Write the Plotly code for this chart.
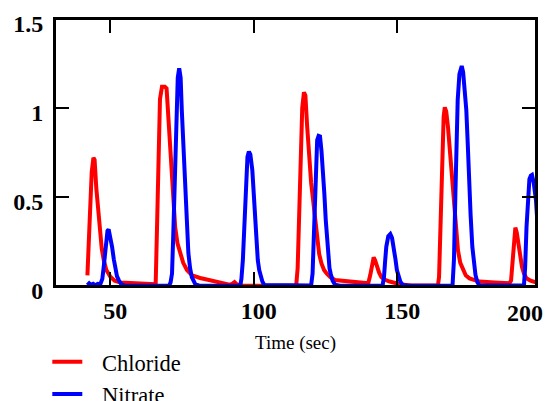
import plotly.graph_objects as go

# ---- data ----
chloride_t = [42.0, 42.5, 42.9, 43.5, 44.1, 44.5, 45.1, 45.7, 46.3, 47.0, 47.7, 48.6, 50.0, 51.5, 53.5, 58, 63, 65.8,
              66.3, 66.8, 67.3, 68.0, 69.0, 69.6, 70.2, 70.9, 71.7, 72.6, 73.4, 74.3, 75.4, 76.7, 78.5, 81.3, 84.8,
              88.5, 91.5, 92.5, 93.3, 94.2, 96, 100, 110, 114.8,
              115.3, 115.7, 116.3, 116.9, 117.5, 118.0, 118.6, 119.3, 120.0, 120.7, 121.4, 122.1, 122.8, 123.6,
              124.5, 125.4, 126.7, 128.3, 134, 139.9,
              140.6, 141.2, 141.8, 142.3, 143.0, 143.7, 144.5, 145.8, 147.4, 149.4, 151.4, 155, 164.2,
              164.6, 165.0, 165.4, 165.8, 166.2, 166.6, 167.1, 167.7, 168.3, 168.9, 169.5, 170.0, 170.6, 171.2,
              172.0, 172.9, 173.9, 175.2, 176.8, 178.7, 184, 189.1,
              189.7, 190.1, 190.5, 190.9, 191.2, 191.7, 192.4, 192.9, 193.5, 194.2, 195.1, 196.5, 198.4, 200.5]
chloride_v = [0.06, 0.30, 0.46, 0.64, 0.72, 0.71, 0.55, 0.42, 0.30, 0.21, 0.145, 0.09, 0.052, 0.03, 0.02, 0.015, 0.01, 0.01,
              0.35, 0.85, 1.05, 1.12, 1.12, 1.11, 0.95, 0.71, 0.48, 0.33, 0.24, 0.185, 0.13, 0.09, 0.06, 0.045, 0.032,
              0.02, 0.008, 0.012, 0.022, 0.008, 0.003, 0.002, 0.002, 0.003,
              0.1, 0.3, 0.75, 1.0, 1.088, 1.07, 0.9, 0.69, 0.58, 0.48, 0.37, 0.26, 0.18, 0.127,
              0.09, 0.07, 0.05, 0.034, 0.025, 0.015,
              0.06, 0.13, 0.161, 0.145, 0.10, 0.075, 0.05, 0.035, 0.025, 0.015, 0.008, 0.003, 0.003,
              0.05, 0.33, 0.6, 0.82, 0.95, 1.004, 0.98, 0.895, 0.77, 0.65, 0.52, 0.39, 0.29, 0.2,
              0.13, 0.09, 0.06, 0.043, 0.032, 0.025, 0.02, 0.015,
              0.03, 0.12, 0.22, 0.31, 0.328, 0.30, 0.22, 0.16, 0.108, 0.07, 0.043, 0.03, 0.02, 0.01]

nitrate_t = [42.0, 42.6, 43.2, 44.0, 44.8, 45.6, 46.5, 47.2, 47.7, 48.1, 48.5, 49.0, 49.4, 49.9, 50.6, 51.2, 51.7, 52.3,
             52.9, 53.8, 55, 70.5,
             71.0, 71.5, 71.9, 72.3, 72.7, 73.0, 73.5, 74.0, 74.5, 74.9, 75.5, 76.1, 76.6, 77.2, 77.8, 78.4, 79.6, 81,
             95.3, 95.7, 96.2, 96.6, 97.0, 97.4, 97.8, 98.3, 98.8, 99.5, 99.9, 100.4, 100.9, 101.4, 101.9, 102.4,
             103.0, 103.7, 120.0,
             120.5, 120.9, 121.3, 121.7, 122.1, 122.6, 123.1, 123.6, 124.2, 124.6, 125.1, 125.5, 125.9, 126.4, 126.8,
             127.5, 128.3, 130, 144.9,
             145.4, 145.8, 146.2, 146.9, 147.6, 148.2, 148.8, 149.4, 149.9, 150.5, 151.1, 152, 154, 169.3,
             169.8, 170.3, 170.7, 171.1, 171.7, 172.5, 173.0, 173.5, 174.1, 174.6, 175.0, 175.6, 176.2, 176.8, 177.3,
             178.0, 178.7, 194.2,
             194.6, 195.1, 195.6, 196.1, 196.6, 197.0, 197.6, 198.4, 199.0, 199.5, 200.2, 201]
nitrate_v = [0.005, 0.015, 0.005, 0.012, 0.003, 0.012, 0.01, 0.04, 0.11, 0.19, 0.26, 0.31, 0.318, 0.28, 0.22, 0.15, 0.09, 0.055,
             0.034, 0.01, 0.002, 0.002,
             0.02, 0.07, 0.27, 0.52, 0.78, 0.99, 1.17, 1.223, 1.17, 0.99, 0.75, 0.52, 0.33, 0.185, 0.10, 0.05, 0.01, 0.002,
             0.002, 0.04, 0.146, 0.3, 0.48, 0.62, 0.726, 0.755, 0.74, 0.65, 0.52, 0.37, 0.25, 0.146, 0.09, 0.06,
             0.025, 0.005, 0.003,
             0.07, 0.28, 0.52, 0.70, 0.82, 0.843, 0.84, 0.76, 0.65, 0.52, 0.37, 0.26, 0.165, 0.10, 0.07,
             0.03, 0.008, 0.002, 0.002,
             0.05, 0.14, 0.22, 0.28, 0.292, 0.27, 0.22, 0.15, 0.09, 0.05, 0.025, 0.005, 0.002, 0.002,
             0.15, 0.52, 0.82, 1.045, 1.19, 1.236, 1.20, 1.12, 0.99, 0.8, 0.614, 0.4, 0.22, 0.11, 0.062,
             0.02, 0.003, 0.003,
             0.1, 0.333, 0.5, 0.6, 0.62, 0.624, 0.58, 0.48, 0.33, 0.22, 0.09, 0.03]

x_ticks = [50, 100, 150, 200]
x_tick_text = ["50", "100", "150", ""]
last_x_label = "200"
y_ticks = [0, 0.5, 1, 1.5]
y_tick_text = ["0", "0.5", "1", "1.5"]

SERIF = "Liberation Serif, Times New Roman, serif"
GAP = "\u00a0\u2009\u2009"

fig = go.Figure()
fig.add_trace(go.Scatter(x=chloride_t, y=chloride_v, mode="lines", name=GAP + "Chloride",
                         line=dict(color="#ff0000", width=4)))
fig.add_trace(go.Scatter(x=nitrate_t, y=nitrate_v, mode="lines", name=GAP + "Nitrate",
                         line=dict(color="#0000ff", width=4)))

axis_common = dict(showgrid=False, zeroline=False, showline=True, linecolor="black", linewidth=2,
                   mirror="ticks", ticks="inside", ticklen=14, tickwidth=2, tickcolor="black",
                   automargin=False)

fig.update_layout(
    width=546, height=401,
    margin=dict(l=54.5, r=9.5, t=19, b=115, autoexpand=False),
    paper_bgcolor="white", plot_bgcolor="white",
    xaxis=dict(range=[30.7, 198.4], tickvals=x_ticks, ticktext=x_tick_text,
               tickfont=dict(family=SERIF, size=24, color="black", weight="bold"),
               ticklabelshift=5, ticklabelstandoff=2,
               title=dict(text="Time (sec)", font=dict(family=SERIF, size=19, color="black"), standoff=13),
               **axis_common),
    yaxis=dict(range=[0, 1.5], tickvals=y_ticks, ticktext=y_tick_text,
               tickfont=dict(family=SERIF, size=24, color="black", weight="bold"),
               ticklabelshift=5, ticklabelstandoff=5,
               **axis_common),
    legend=dict(x=-0.016, y=-0.205, xanchor="left", yanchor="top", orientation="v",
                font=dict(family=SERIF, size=22.5, color="black"), bgcolor="rgba(0,0,0,0)",
                itemwidth=30, tracegroupgap=0),
    showlegend=True,
)

# full plot frame
fig.add_shape(type="rect", xref="paper", yref="paper", x0=0, x1=1, y0=0, y1=1,
              line=dict(color="black", width=2), layer="above")

# last x label, pulled inside the window as in the reference
fig.add_annotation(x=1, xref="paper", y=0, yref="paper", text="<b>" + last_x_label + "</b>", showarrow=False,
                   xanchor="right", yanchor="top", xshift=9, yshift=-12,
                   font=dict(family=SERIF, size=24, color="black"))

# remove the default page margin so the 546x401 figure fills the window exactly
fig.write_html("out.html", config={"displayModeBar": False},
               post_script="document.body.style.margin='0';document.body.style.overflow='hidden';")
